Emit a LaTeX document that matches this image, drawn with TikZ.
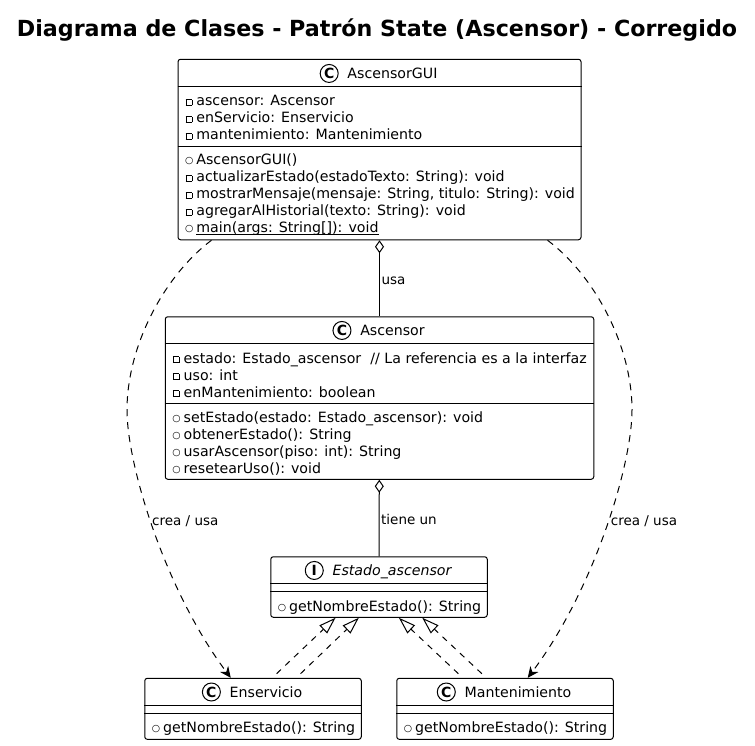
\documentclass[tikz,border=0pt]{standalone}
\usepackage{fontspec}
\setmainfont{DejaVu Sans}
\usetikzlibrary{positioning, arrows.meta}
\newcommand{\priv}{\strut\makebox[10.7pt][l]{\raisebox{.8pt}{\fboxsep=0pt\fboxrule=.6pt\framebox[6.4pt]{\rule{0pt}{5.2pt}}}}}
\newcommand{\pub}{\strut\makebox[10.7pt][l]{\hspace{-.5pt}\raisebox{1.1pt}{\fontsize{9.5}{9.5}\selectfont ○}}}
\tikzset{
    clase/.style={
        rectangle,
        draw,
        line width=1pt,
        rounded corners=2.5pt,
        inner sep=0
    },
    nombre/.style={
        inner sep=0,
        text height=13pt,
        text depth=3pt,
        font=\fontsize{14.18}{17}\selectfont
    },
    miembros/.style={
        anchor=north west,
        inner sep=0,
        align=left,
        font=\fontsize{14.18}{17}\selectfont
    },
    mancha/.style={
        circle,
        draw,
        line width=1pt,
        minimum size=18pt,
        inner sep=0,
        font=\fontsize{14}{14}\selectfont\bfseries
    },
    etiqueta/.style={
        inner sep=1.5pt,
        text height=15pt,
        text depth=3pt,
        font=\fontsize{13.5}{15}\selectfont
    },
    agrega/.style={
        line width=1pt,
        {Diamond[open, length=13pt, width=9pt]}-
    },
    depende/.style={
        line width=1pt,
        dash pattern=on 7pt off 6pt,
        -{Stealth[length=11pt, width=10pt, inset=3.5pt]}
    },
    realiza/.style={
        line width=1pt,
        dash pattern=on 6pt off 6pt,
        dash phase=6pt,
        -{Triangle[open, length=17pt, width=11pt]}
    }
}

\begin{document}
\begin{tikzpicture}[x=1pt, y=-1pt]
    \useasboundingbox (0,0) rectangle (755,745);
    \node[font=\fontsize{22.2}{26}\selectfont\bfseries] (titulo) at (377,30) {Diagrama de Clases - Patrón State (Ascensor) - Corregido};

    % cajas
    \node[clase, minimum width=403pt, minimum height=180.5pt] (gui) at (379.5,149.5) {};
    \node[clase, minimum width=428.5pt, minimum height=162.5pt] (ascensor) at (379.5,398) {};
    \node[clase, minimum width=216.5pt, minimum height=60.5pt] (estado) at (379,587) {};
    \node[clase, minimum width=216.5pt, minimum height=61pt] (enservicio) at (253,708.8) {};
    \node[clase, minimum width=216.5pt, minimum height=61pt] (mantenimiento) at (505,708.8) {};

    % separadores
    \draw[line width=1pt] ([yshift=-28pt]gui.north west) -- ([yshift=-28pt]gui.north east);
    \draw[line width=1pt] ([yshift=-87.5pt]gui.north west) -- ([yshift=-87.5pt]gui.north east);
    \draw[line width=1pt] ([yshift=-27.5pt]ascensor.north west) -- ([yshift=-27.5pt]ascensor.north east);
    \draw[line width=1pt] ([yshift=-87pt]ascensor.north west) -- ([yshift=-87pt]ascensor.north east);
    \foreach \caja in {estado, enservicio, mantenimiento} {
        \draw[line width=1pt] ([yshift=-27.5pt]\caja.north west) -- ([yshift=-27.5pt]\caja.north east);
        \draw[line width=1pt] ([yshift=-35.5pt]\caja.north west) -- ([yshift=-35.5pt]\caja.north east);
    }

    % cabeceras
    \node[nombre] (gui nombre) at ([xshift=13pt,yshift=-14.7pt]gui.north) {AscensorGUI};
    \node[mancha, left=8.6pt of gui nombre] (gui mancha) {C};
    \node[nombre] (ascensor nombre) at ([xshift=13pt,yshift=-14.2pt]ascensor.north) {Ascensor};
    \node[mancha, left=8.6pt of ascensor nombre] (ascensor mancha) {C};
    \node[nombre, font=\fontsize{14.18}{17}\selectfont\itshape] (estado nombre) at ([xshift=13pt,yshift=-14.2pt]estado.north) {Estado\_ascensor};
    \node[mancha, left=8.6pt of estado nombre] (estado mancha) {I};
    \node[nombre] (enservicio nombre) at ([xshift=13pt,yshift=-14.2pt]enservicio.north) {Enservicio};
    \node[mancha, left=8.6pt of enservicio nombre] (enservicio mancha) {C};
    \node[nombre] (mantenimiento nombre) at ([xshift=13pt,yshift=-14.2pt]mantenimiento.north) {Mantenimiento};
    \node[mancha, left=8.6pt of mantenimiento nombre] (mantenimiento mancha) {C};

    % miembros
    \node[miembros] (gui atributos) at ([xshift=8pt,yshift=-35pt]gui.north west) {\priv ascensor: Ascensor\\ \priv enServicio: Enservicio\\ \priv mantenimiento: Mantenimiento};
    \node[miembros] (gui metodos) at ([xshift=8pt,yshift=-94pt]gui.north west) {\pub AscensorGUI()\\ \priv actualizarEstado(estadoTexto: String): void\\ \priv mostrarMensaje(mensaje: String, titulo: String): void\\ \priv agregarAlHistorial(texto: String): void\\ \pub \underline{\smash{main(args: String[]): void}}};
    \node[miembros] (ascensor atributos) at ([xshift=8pt,yshift=-34.7pt]ascensor.north west) {\priv estado: Estado\_ascensor~~// La referencia es a la interfaz\\ \priv uso: int\\ \priv enMantenimiento: boolean};
    \node[miembros] (ascensor metodos) at ([xshift=8pt,yshift=-94pt]ascensor.north west) {\pub setEstado(estado: Estado\_ascensor): void\\ \pub obtenerEstado(): String\\ \pub usarAscensor(piso: int): String\\ \pub resetearUso(): void};
    \foreach \caja in {estado, enservicio, mantenimiento} {
        \node[miembros] (\caja\space metodos) at ([xshift=8pt,yshift=-43pt]\caja.north west) {\pub getNombreEstado(): String};
    }

    % relaciones
    \draw[agrega] (gui) -- node[etiqueta, right] (usa) {usa} (ascensor);
    \draw[agrega] (ascensor) -- node[etiqueta, right] (tiene) {tiene un} (estado);
    \draw[depende] ([xshift=34pt]gui.south west) .. controls (165,275) and (127,345) .. (127,410)
        .. controls (127,465) and (165,590) .. node[etiqueta, pos=.46, right] (crea a) {crea / usa} ([xshift=86.5pt]enservicio.north west);
    \draw[depende] ([xshift=-34pt]gui.south east) .. controls (594,275) and (632,345) .. (632,410)
        .. controls (632,465) and (594,590) .. node[etiqueta, pos=.46, right] (crea b) {crea / usa} ([xshift=-86pt]mantenimiento.north east);
    \draw[realiza] ([xshift=128pt]enservicio.north west) -- ([xshift=65.3pt]estado.south west);
    \draw[realiza] ([xshift=152pt]enservicio.north west) -- ([xshift=88.6pt]estado.south west);
    \draw[realiza] ([xshift=66.5pt]mantenimiento.north west) -- ([xshift=128.6pt]estado.south west);
    \draw[realiza] ([xshift=90pt]mantenimiento.north west) -- ([xshift=152pt]estado.south west);
\end{tikzpicture}
\end{document}
